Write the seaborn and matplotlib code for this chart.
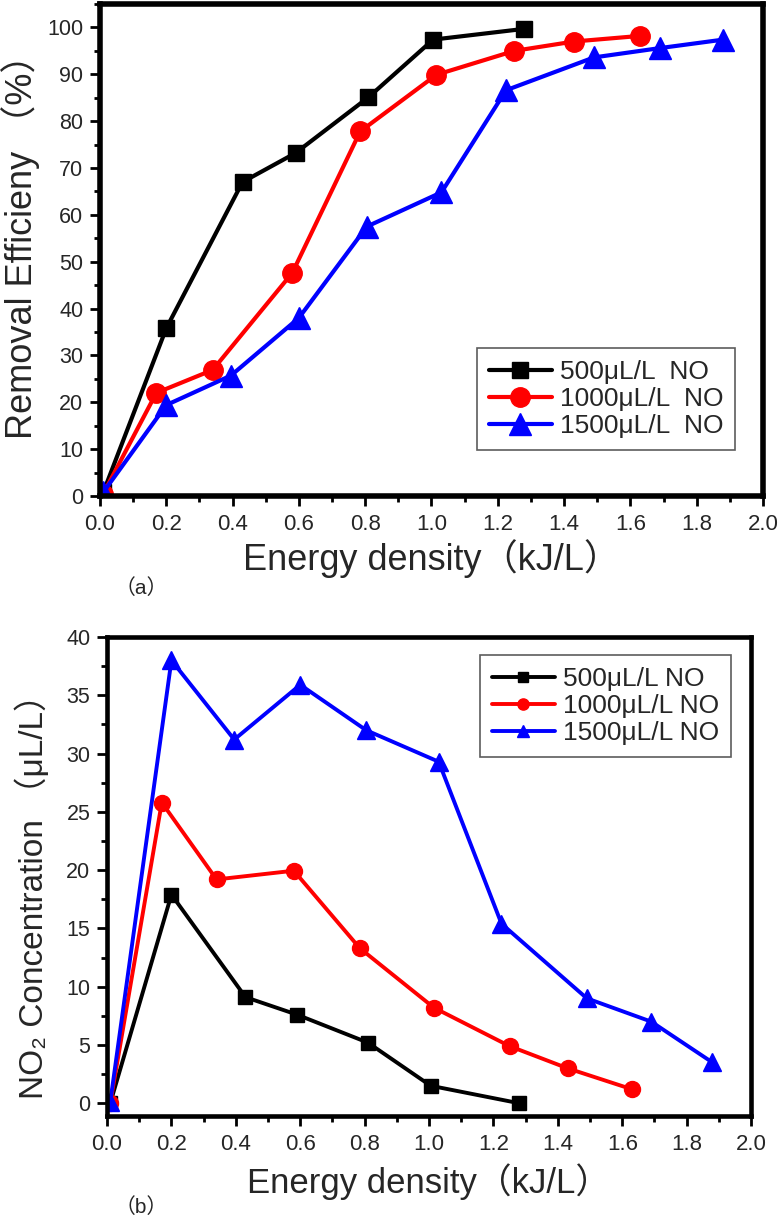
import matplotlib
matplotlib.use("Agg")
import matplotlib.pyplot as plt
from matplotlib.ticker import MultipleLocator, AutoMinorLocator
import seaborn as sns

# energy density (kJ/L) for each inlet NO level
x_500 = [0.01, 0.20, 0.43, 0.59, 0.81, 1.005, 1.28]
x_1000 = [0.01, 0.17, 0.34, 0.58, 0.785, 1.015, 1.25, 1.43, 1.63]
x_1500 = [0.01, 0.20, 0.395, 0.60, 0.805, 1.03, 1.225, 1.49, 1.69, 1.88]

# (a) removal efficiency (%)
eff_500 = [0.8, 35.8, 67.0, 73.2, 85.1, 97.4, 99.7]
eff_1000 = [0.5, 22.0, 26.9, 47.6, 77.8, 89.9, 95.0, 97.0, 98.2]
eff_1500 = [0.8, 19.4, 25.7, 38.0, 57.5, 64.8, 86.6, 93.6, 95.6, 97.4]

# (b) NO2 concentration (uL/L)
no2_500 = [0.0, 17.9, 9.1, 7.6, 5.2, 1.5, 0.0]
no2_1000 = [0.0, 25.8, 19.2, 19.95, 13.3, 8.2, 4.9, 3.0, 1.2]
no2_1500 = [0.1, 38.0, 31.2, 35.9, 32.0, 29.3, 15.4, 9.0, 7.0, 3.5]

labels_a = ["500μL/L  NO", "1000μL/L  NO", "1500μL/L  NO"]
labels_b = ["500μL/L NO", "1000μL/L NO", "1500μL/L NO"]
colors = ["black", "red", "blue"]
marks = ["s", "o", "^"]

sns.set_style("ticks")
plt.rcParams["font.family"] = ["Liberation Sans", "Noto Sans CJK SC", "DejaVu Sans"]

fig = plt.figure(figsize=(7.83, 12.18), dpi=100)
ax1 = fig.add_axes([0.1277, 0.5928, 0.8467, 0.4039])
ax2 = fig.add_axes([0.1367, 0.0837, 0.8225, 0.3933])

# panel (a)
sizes_a = [12, 14, 15.5]
for xs, ys, c, m, ms, lab in zip([x_500, x_1000, x_1500], [eff_500, eff_1000, eff_1500],
                                 colors, marks, sizes_a, labels_a):
    sns.lineplot(x=xs, y=ys, ax=ax1, color=c, marker=m, markersize=ms,
                 markeredgecolor=c, markeredgewidth=1, linewidth=3, label=lab, sort=False)

# panel (b)
sizes_b = [9.5, 11.5, 13]
for xs, ys, c, m, ms, lab in zip([x_500, x_1000, x_1500], [no2_500, no2_1000, no2_1500],
                                 colors, marks, sizes_b, labels_b):
    sns.lineplot(x=xs, y=ys, ax=ax2, color=c, marker=m, markersize=ms,
                 markeredgecolor=c, markeredgewidth=1, linewidth=2.8, label=lab, sort=False)

ax1.set_xlim(0, 2.0)
ax1.set_ylim(0, 105)
ax1.xaxis.set_major_locator(MultipleLocator(0.2))
ax1.set_yticks(range(0, 101, 10))

ax2.set_xlim(0, 2.0)
ax2.set_ylim(-1.1, 40)
ax2.xaxis.set_major_locator(MultipleLocator(0.2))
ax2.set_yticks(range(0, 41, 5))

for ax, sw in [(ax1, 4), (ax2, 3.3)]:
    ax.xaxis.set_minor_locator(AutoMinorLocator(2))
    ax.yaxis.set_minor_locator(AutoMinorLocator(2))
    ax.xaxis.set_major_formatter(plt.FormatStrFormatter("%.1f"))
    for s in ax.spines.values():
        s.set_visible(True)
        s.set_linewidth(sw)
        s.set_color("black")
    ax.tick_params(which="major", direction="out", length=7, width=2, pad=5,
                   top=False, right=False, labelsize=15.5, color="black")
    ax.tick_params(which="minor", direction="out", length=4, width=2,
                   top=False, right=False, color="black")
    ax.tick_params(axis="x", which="major", pad=6, labelsize=16)

ax1.set_xlabel("Energy density（kJ/L）", fontsize=26, labelpad=3)
ax1.set_ylabel("Removal Efficieny （%）", fontsize=26)
ax1.yaxis.set_label_coords(-0.09, 0.525)

ax2.set_xlabel("Energy density（kJ/L）", fontsize=25, labelpad=6)
ax2.set_ylabel("NO₂ Concentration （μL/L）", fontsize=24)
ax2.yaxis.set_label_coords(-0.088, 0.475)

leg1 = ax1.legend(loc="upper left", bbox_to_anchor=(0.5686, 0.3008), fontsize=19,
                  handlelength=2.4, handletextpad=0.3, labelspacing=0.12,
                  borderpad=0.45, borderaxespad=0, fancybox=False, frameon=True)
leg1.get_frame().set_edgecolor("#333333")
leg1.get_frame().set_linewidth(1.2)

leg2 = ax2.legend(loc="upper left", bbox_to_anchor=(0.579, 0.962), fontsize=19,
                  handlelength=2.4, handletextpad=0.3, labelspacing=0.12,
                  borderpad=0.45, borderaxespad=0, fancybox=False, frameon=True,
                  markerscale=0.7)
leg2.get_frame().set_edgecolor("#333333")
leg2.get_frame().set_linewidth(1.2)

fig.text(115 / 783, 1 - 588 / 1218, "（a）", fontsize=15, va="center", ha="left")
fig.text(115 / 783, 1 - 1207 / 1218, "（b）", fontsize=15, va="center", ha="left")

fig.savefig("out.png", dpi=100)
